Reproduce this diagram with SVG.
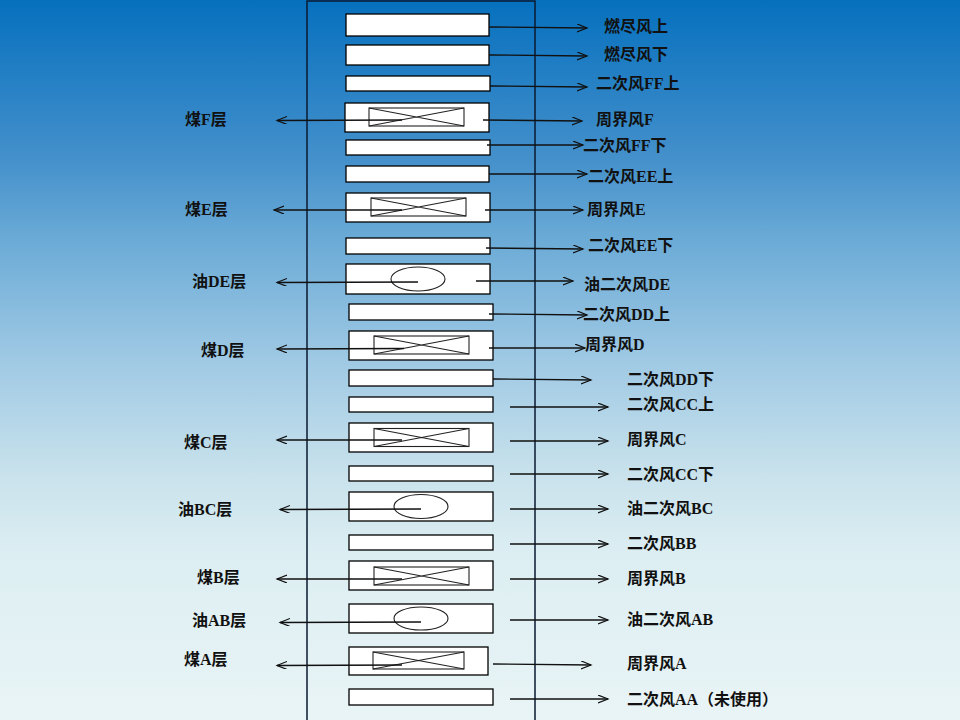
<svg xmlns="http://www.w3.org/2000/svg" width="960" height="720" viewBox="0 0 960 720">
<defs>
<linearGradient id="bg" x1="0" y1="0" x2="0" y2="1">
<stop offset="0" stop-color="#0670be"/>
<stop offset="0.22" stop-color="#4490cb"/>
<stop offset="0.33" stop-color="#6aaad6"/>
<stop offset="0.5" stop-color="#9fc9e4"/>
<stop offset="0.66" stop-color="#c9e2ec"/>
<stop offset="0.77" stop-color="#dceef2"/>
<stop offset="1" stop-color="#e9f4f6"/>
</linearGradient>
<marker id="ah" markerUnits="userSpaceOnUse" markerWidth="12" markerHeight="10" refX="10" refY="4" orient="auto">
<path d="M0,0 L10,4 L0,8" fill="none" stroke="#111" stroke-width="1.2"/>
</marker>
</defs>
<style>
.box{fill:#fff;stroke:#000;stroke-width:1.3}
.in{fill:none;stroke:#222;stroke-width:1.1}
.c{stroke:#111;stroke-width:1.3;fill:none;marker-end:url(#ah)}
text{font-family:"Liberation Serif","Noto Sans CJK SC",serif;font-weight:bold;font-size:16px;fill:#111}
</style>
<rect width="960" height="720" fill="url(#bg)"/>
<rect id="frame" x="307" y="1" width="228" height="740" fill="none" stroke="#0a1a30" stroke-width="1.5"/>

<g id="nodes">
<g id="n1"><rect class="box" x="346" y="14" width="143" height="22"/></g>
<g id="n2"><rect class="box" x="346" y="45" width="143" height="20"/></g>
<g id="n3"><rect class="box" x="346" y="76" width="144" height="15"/></g>
<g id="n4"><rect class="box" x="345" y="103" width="144" height="29"/><rect class="in" x="369" y="108" width="95" height="18"/><path class="in" d="M369,108 L464,126 M464,108 L369,126"/></g>
<g id="n5"><rect class="box" x="346" y="140" width="144" height="15"/></g>
<g id="n6"><rect class="box" x="346" y="166" width="143" height="16"/></g>
<g id="n7"><rect class="box" x="346" y="193" width="144" height="29"/><rect class="in" x="371" y="198" width="95" height="18"/><path class="in" d="M371,198 L466,216 M466,198 L371,216"/></g>
<g id="n8"><rect class="box" x="346" y="238" width="144" height="16"/></g>
<g id="n9"><rect class="box" x="346" y="264" width="144" height="30"/><ellipse class="in" cx="418" cy="279" rx="27" ry="12"/></g>
<g id="n10"><rect class="box" x="349" y="304" width="144" height="16"/></g>
<g id="n11"><rect class="box" x="349" y="331" width="144" height="29"/><rect class="in" x="374" y="336" width="95" height="18"/><path class="in" d="M374,336 L469,354 M469,336 L374,354"/></g>
<g id="n12"><rect class="box" x="349" y="370" width="144" height="16"/></g>
<g id="n13"><rect class="box" x="349" y="397" width="144" height="15"/></g>
<g id="n14"><rect class="box" x="349" y="423" width="144" height="29"/><rect class="in" x="374" y="428.5" width="95" height="18"/><path class="in" d="M374,428.5 L469,446.5 M469,428.5 L374,446.5"/></g>
<g id="n15"><rect class="box" x="349" y="466" width="144" height="15"/></g>
<g id="n16"><rect class="box" x="349" y="492" width="144" height="29"/><ellipse class="in" cx="421" cy="506.5" rx="27" ry="12"/></g>
<g id="n17"><rect class="box" x="349" y="535" width="144" height="15"/></g>
<g id="n18"><rect class="box" x="349" y="561" width="144" height="29"/><rect class="in" x="374" y="567" width="95" height="18"/><path class="in" d="M374,567 L469,585 M469,567 L374,585"/></g>
<g id="n19"><rect class="box" x="349" y="604" width="144" height="29"/><ellipse class="in" cx="421" cy="618.5" rx="27" ry="11.5"/></g>
<g id="n20"><rect class="box" x="349" y="647" width="139" height="28"/><rect class="in" x="373" y="652" width="91" height="17"/><path class="in" d="M373,652 L464,669 M464,652 L373,669"/></g>
<g id="n21"><rect class="box" x="349" y="689" width="144" height="16"/></g>
</g>

<g id="connectors">
<line class="c" x1="489" y1="27" x2="587" y2="28"/>
<line class="c" x1="489" y1="55" x2="587" y2="56"/>
<line class="c" x1="490" y1="86" x2="587" y2="87"/>
<line class="c" x1="483" y1="120" x2="582" y2="121"/>
<line class="c" x1="487" y1="145" x2="583" y2="145"/>
<line class="c" x1="489" y1="174" x2="587" y2="174"/>
<line class="c" x1="485" y1="210" x2="583" y2="210"/>
<line class="c" x1="486" y1="248" x2="583" y2="249"/>
<line class="c" x1="476" y1="281" x2="573" y2="281"/>
<line class="c" x1="489" y1="314" x2="587" y2="315"/>
<line class="c" x1="489" y1="348" x2="585" y2="348"/>
<line class="c" x1="493" y1="379" x2="591" y2="380"/>
<line class="c" x1="510" y1="407" x2="608" y2="407"/>
<line class="c" x1="510" y1="441" x2="608" y2="441"/>
<line class="c" x1="510" y1="474" x2="608" y2="474"/>
<line class="c" x1="510" y1="509" x2="608" y2="509"/>
<line class="c" x1="510" y1="544" x2="608" y2="544"/>
<line class="c" x1="510" y1="579" x2="608" y2="579"/>
<line class="c" x1="510" y1="620" x2="608" y2="620"/>
<line class="c" x1="493" y1="664" x2="591" y2="665"/>
<line class="c" x1="510" y1="699" x2="608" y2="699"/>

<line class="c" x1="402" y1="120" x2="277" y2="120.5"/>
<line class="c" x1="402" y1="210" x2="274" y2="210"/>
<line class="c" x1="418" y1="282" x2="277" y2="282.5"/>
<line class="c" x1="404" y1="348.5" x2="277" y2="349"/>
<line class="c" x1="402" y1="440" x2="277" y2="440"/>
<line class="c" x1="421" y1="509" x2="280" y2="509.5"/>
<line class="c" x1="402" y1="579" x2="277" y2="579"/>
<line class="c" x1="421" y1="622" x2="280" y2="622.5"/>
<line class="c" x1="402" y1="665" x2="277" y2="665.5"/>
</g>

<g id="labels-right">
<text x="604" y="32">燃尽风上</text>
<text x="604" y="60">燃尽风下</text>
<text x="596" y="89">二次风FF上</text>
<text x="596" y="125">周界风F</text>
<text x="583" y="151">二次风FF下</text>
<text x="588" y="182">二次风EE上</text>
<text x="587" y="215">周界风E</text>
<text x="588" y="251">二次风EE下</text>
<text x="584" y="290">油二次风DE</text>
<text x="583" y="320">二次风DD上</text>
<text x="585" y="350">周界风D</text>
<text x="627" y="385">二次风DD下</text>
<text x="627" y="410">二次风CC上</text>
<text x="627" y="445">周界风C</text>
<text x="627" y="480">二次风CC下</text>
<text x="627" y="514">油二次风BC</text>
<text x="627" y="549">二次风BB</text>
<text x="627" y="584">周界风B</text>
<text x="627" y="625">油二次风AB</text>
<text x="627" y="669">周界风A</text>
<text x="627" y="705">二次风AA（未使用）</text>
</g>

<g id="labels-left">
<text x="185" y="125">煤F层</text>
<text x="185" y="215">煤E层</text>
<text x="192" y="287">油DE层</text>
<text x="201" y="356">煤D层</text>
<text x="184" y="448">煤C层</text>
<text x="178" y="515">油BC层</text>
<text x="197" y="583">煤B层</text>
<text x="192" y="626">油AB层</text>
<text x="184" y="665">煤A层</text>
</g>
</svg>
